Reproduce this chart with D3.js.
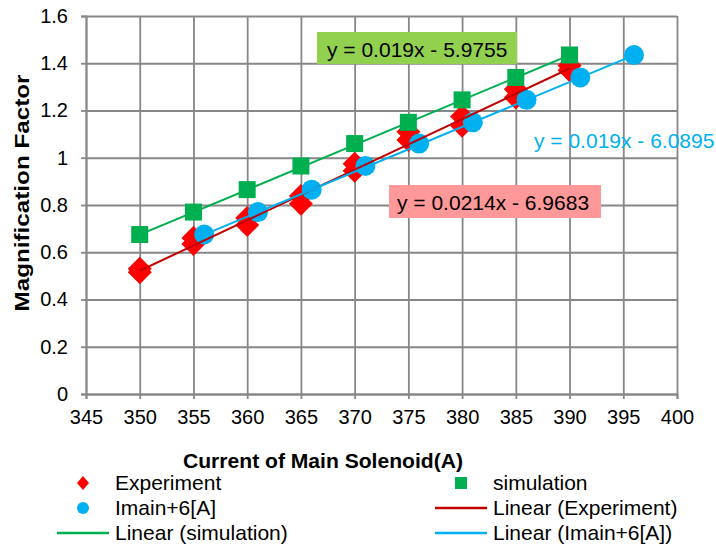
<!DOCTYPE html>
<html>
<head>
<meta charset="utf-8">
<script src="https://cdn.jsdelivr.net/npm/d3@7"></script>
<style>
  body { margin: 0; background: #fff; }
  text { font-family: "Liberation Sans", Arial, sans-serif; }
</style>
</head>
<body>
<div id="chart"></div>
<script>
// data
var xTicks = [345, 350, 355, 360, 365, 370, 375, 380, 385, 390, 395, 400];
var yTicks = [0, 0.2, 0.4, 0.6, 0.8, 1, 1.2, 1.4, 1.6];

// experiment has two readings per current
var expX = [350, 350, 355, 355, 360, 360, 365, 365, 370, 370, 375, 375, 380, 380, 385, 385, 390, 390];
var expY = [0.515, 0.53, 0.66, 0.635, 0.745, 0.715, 0.838, 0.805, 0.975, 0.945, 1.11, 1.075, 1.175, 1.135, 1.29, 1.255, 1.39, 1.37];

var simX = [350, 355, 360, 365, 370, 375, 380, 385, 390];
var simY = [0.675, 0.77, 0.865, 0.965, 1.06, 1.15, 1.245, 1.34, 1.435];

var shiftX = [356, 361, 366, 371, 376, 381, 386, 391, 396];
var shiftY = [0.675, 0.77, 0.865, 0.965, 1.06, 1.15, 1.245, 1.34, 1.435];

// trendline equations shown on the chart
var trendSlope = [0.0214, 0.019, 0.019];
var trendIntercept = [-6.9683, -5.9755, -6.0895];
var trendLabels = ["y = 0.0214x - 6.9683", "y = 0.019x - 5.9755", "y = 0.019x - 6.0895"];

var svgWidth = 716;
var svgHeight = 548;

var plot = { left: 86, right: 677, top: 16, bottom: 394 };

var svg = d3.select("#chart")
    .append("svg")
    .attr("width", svgWidth)
    .attr("height", svgHeight);

var xScale = d3.scaleLinear()
    .domain([345, 400])
    .range([plot.left, plot.right]);

var yScale = d3.scaleLinear()
    .domain([0, 1.6])
    .range([plot.bottom, plot.top]);

var gridColor = "#878787";

// gridlines
svg.append("g")
    .attr("transform", `translate(0, ${plot.bottom})`)
    .call(d3.axisBottom(xScale).tickValues(xTicks).tickSize(-(plot.bottom - plot.top)).tickFormat(""))
    .call(g => g.select(".domain").remove())
    .selectAll("line").attr("stroke", gridColor).attr("stroke-width", 1.8);

svg.append("g")
    .attr("transform", `translate(${plot.left}, 0)`)
    .call(d3.axisLeft(yScale).tickValues(yTicks).tickSize(-(plot.right - plot.left)).tickFormat(""))
    .call(g => g.select(".domain").remove())
    .selectAll("line").attr("stroke", gridColor).attr("stroke-width", 1.8);

// axes
var xAxis = svg.append("g")
    .attr("transform", `translate(0, ${plot.bottom})`)
    .call(d3.axisBottom(xScale).tickValues(xTicks).tickSize(5).tickPadding(11).tickFormat(d3.format("d")));

var yAxis = svg.append("g")
    .attr("transform", `translate(${plot.left}, 0)`)
    .call(d3.axisLeft(yScale).tickValues(yTicks).tickSize(5).tickPadding(13).tickFormat(d => d));

[xAxis, yAxis].forEach(function(ax) {
    ax.selectAll("path, line").attr("stroke", gridColor).attr("stroke-width", 1.8);
    ax.selectAll("text")
        .style("font-family", "'Liberation Sans', Arial, sans-serif")
        .style("font-size", "20px")
        .attr("fill", "#000");
});

// series markers
svg.append("g").selectAll("path")
    .data(expX.map((x, i) => [x, expY[i]]))
    .enter()
    .append("path")
    .attr("d", "M0,-12L12,0L0,12L-12,0Z")
    .attr("transform", d => `translate(${xScale(d[0])}, ${yScale(d[1])})`)
    .attr("fill", "#FF0000");

svg.append("g").selectAll("rect")
    .data(simX.map((x, i) => [x, simY[i]]))
    .enter()
    .append("rect")
    .attr("x", d => xScale(d[0]) - 8.5)
    .attr("y", d => yScale(d[1]) - 8.5)
    .attr("width", 17)
    .attr("height", 17)
    .attr("fill", "#00B050");

svg.append("g").selectAll("circle")
    .data(shiftX.map((x, i) => [x, shiftY[i]]))
    .enter()
    .append("circle")
    .attr("cx", d => xScale(d[0]))
    .attr("cy", d => yScale(d[1]))
    .attr("r", 10)
    .attr("fill", "#00B0F0");

// trendlines
var trendColors = ["#C00000", "#00B050", "#00B0F0"];
var trendX = [d3.extent(expX), d3.extent(simX), d3.extent(shiftX)];

var line = d3.line()
    .x(d => xScale(d[0]))
    .y(d => yScale(d[1]));

trendX.forEach(function(ext, i) {
    var pts = ext.map(x => [x, trendSlope[i] * x + trendIntercept[i]]);
    svg.append("path")
        .attr("d", line(pts))
        .attr("fill", "none")
        .attr("stroke", trendColors[i])
        .attr("stroke-width", 2);
});

// equation labels
var eqFont = "21px";

svg.append("rect")
    .attr("x", 317).attr("y", 32).attr("width", 200).attr("height", 32)
    .attr("fill", "#92D050");
svg.append("text")
    .attr("x", 327).attr("y", 56.5)
    .style("font-size", eqFont)
    .text(trendLabels[1]);

svg.append("rect")
    .attr("x", 389).attr("y", 185).attr("width", 212).attr("height", 33)
    .attr("fill", "#FF9999");
svg.append("text")
    .attr("x", 397).attr("y", 209.5)
    .style("font-size", eqFont)
    .text(trendLabels[0]);

svg.append("text")
    .attr("x", 534).attr("y", 148)
    .style("font-size", eqFont)
    .attr("fill", "#00B0F0")
    .text(trendLabels[2]);

// axis titles
svg.append("text")
    .attr("transform", "rotate(-90)")
    .attr("x", -193)
    .attr("y", 29)
    .attr("text-anchor", "middle")
    .attr("textLength", 237)
    .attr("lengthAdjust", "spacingAndGlyphs")
    .style("font-size", "21px")
    .style("font-weight", "bold")
    .text("Magnification Factor");

svg.append("text")
    .attr("x", 323)
    .attr("y", 468)
    .attr("text-anchor", "middle")
    .attr("textLength", 280)
    .attr("lengthAdjust", "spacingAndGlyphs")
    .style("font-size", "20px")
    .style("font-weight", "bold")
    .text("Current of Main Solenoid(A)");

// legend
var legendItems = [
    { name: "Experiment", kind: "diamond", color: "#FF0000", col: 0, row: 0 },
    { name: "simulation", kind: "square", color: "#00B050", col: 1, row: 0 },
    { name: "Imain+6[A]", kind: "circle", color: "#00B0F0", col: 0, row: 1 },
    { name: "Linear (Experiment)", kind: "line", color: "#C00000", col: 1, row: 1 },
    { name: "Linear (simulation)", kind: "line", color: "#00B050", col: 0, row: 2 },
    { name: "Linear (Imain+6[A])", kind: "line", color: "#00B0F0", col: 1, row: 2 }
];

var colSym = [83, 461];
var colText = [115, 493];

legendItems.forEach(function(d) {
    var cx = colSym[d.col];
    var cy = 483 + d.row * 25;
    if (d.kind == "diamond") {
        svg.append("path")
            .attr("d", "M0,-7L6,0L0,7L-6,0Z")
            .attr("transform", `translate(${cx}, ${cy})`)
            .attr("fill", d.color);
    } else if (d.kind == "square") {
        svg.append("rect")
            .attr("x", cx - 6).attr("y", cy - 6)
            .attr("width", 12).attr("height", 12)
            .attr("fill", d.color);
    } else if (d.kind == "circle") {
        svg.append("circle")
            .attr("cx", cx).attr("cy", cy).attr("r", 6)
            .attr("fill", d.color);
    } else {
        svg.append("line")
            .attr("x1", cx - 26).attr("x2", cx + 26)
            .attr("y1", cy).attr("y2", cy)
            .attr("stroke", d.color)
            .attr("stroke-width", 2.5);
    }
    svg.append("text")
        .attr("x", colText[d.col])
        .attr("y", cy + 7)
        .style("font-size", "21px")
        .text(d.name);
});
</script>
</body>
</html>
